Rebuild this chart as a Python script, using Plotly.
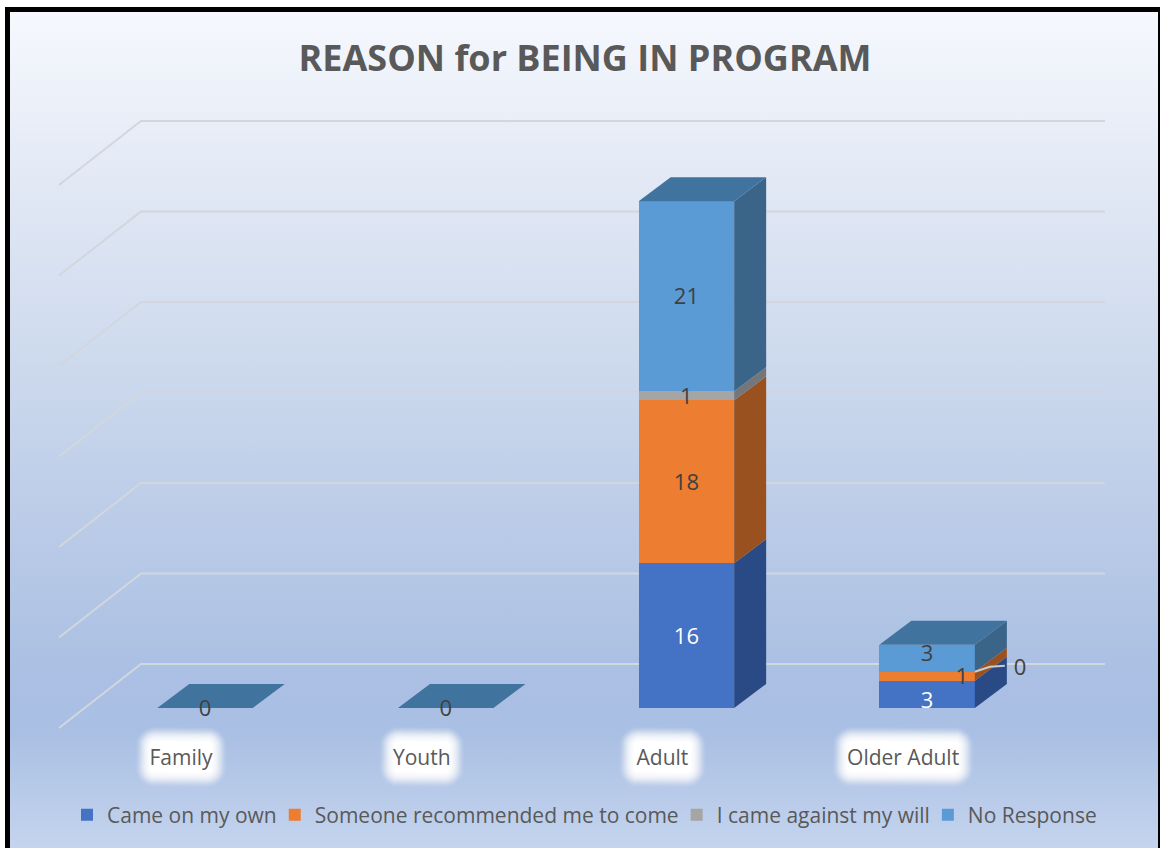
import numpy as np
import plotly.graph_objects as go

# ---- data ----
categories = ["Family", "Youth", "Adult", "Older Adult"]
series_names = ["Came on my own", "Someone recommended me to come", "I came against my will", "No Response"]
came_on_my_own = [0, 0, 16, 3]
someone_recommended = [0, 0, 18, 1]
came_against_will = [0, 0, 1, 0]
no_response = [0, 0, 21, 3]
value_ticks = [0, 10, 20, 30, 40, 50, 60]

# ---- style ----
FONT = "Open Sans"
front_colors = ["#4472C4", "#ED7D31", "#A5A5A5", "#5B9BD5"]
side_colors = ["#2A4A85", "#9A5120", "#75767A", "#3A6589"]
top_color = "#41739F"
label_colors = ["#FFFFFF", "#404040", "#404040", "#404040"]
TEXT = "#595959"

W, H = 1160, 848
X0_PX, X_STEP = 205.0, 240.7
Y0_PX, Y_STEP = 708.0, 9.05


def xd(px):
    return (np.asarray(px, float) - X0_PX) / X_STEP


def yd(py):
    return (Y0_PX - np.asarray(py, float)) / Y_STEP


def dx(px):
    return px / X_STEP


def dy(px):
    return px / Y_STEP


x_range = [float(xd(0)), float(xd(W))]
y_range = [float(yd(H)), float(yd(0))]

fig = go.Figure()

# background gradient (main axes, below the bars' overlay axes)
fig.add_trace(go.Scatter(
    x=[xd(10), xd(1158), xd(1158), xd(10), xd(10)],
    y=[yd(12), yd(12), yd(848), yd(848), yd(12)],
    fill="toself", mode="none", showlegend=False, hoverinfo="skip",
    fillgradient=dict(type="vertical", colorscale=[
        [0.0, "#C4D4EE"], [0.14, "#A9BFE3"], [0.22, "#ABC0E3"],
        [0.55, "#CAD7EC"], [0.8, "#E2E9F5"], [1.0, "#F6F8FD"]]),
))

# floor + back wall grid lines
GRID_L_FRONT, GRID_L_BACK, GRID_R = 59, 141, 1105
FLOOR_FRONT, FLOOR_BACK = 728, 664
gx, gy = [], []
for t in value_ticks:
    gx += [float(xd(GRID_L_FRONT)), float(xd(GRID_L_BACK)), float(xd(GRID_R)), None]
    gy += [t + dy(Y0_PX - FLOOR_FRONT), t + dy(Y0_PX - FLOOR_BACK), t + dy(Y0_PX - FLOOR_BACK), None]
fig.add_trace(go.Scatter(x=gx, y=gy, mode="lines", line=dict(color="#D2D6DD", width=2),
                         showlegend=False, hoverinfo="skip"))

# glow behind category labels
label_shift_px = -24
glow_half_w = [32, 29, 30, 57]
glow_half_h = 17
glow_center_y = 757


def rounded(cx, cy, hw, hh, r):
    pts = []
    for (ox, oy, a0) in [(hw - r, hh - r, 0), (-(hw - r), hh - r, 90), (-(hw - r), -(hh - r), 180), (hw - r, -(hh - r), 270)]:
        for a in np.radians(np.arange(a0, a0 + 91, 15)):
            pts.append((cx + ox + r * np.cos(a), cy + oy + r * np.sin(a)))
    pts.append(pts[0])
    return pts


for grow in range(14, -2, -1):
    xs, ys = [], []
    for i, hw in enumerate(glow_half_w):
        cx = X0_PX + i * X_STEP + label_shift_px
        for (a, b) in rounded(cx, glow_center_y, hw + grow, glow_half_h + grow, max(grow + 6, 3)):
            xs.append(float(xd(a)))
            ys.append(float(yd(b)))
        xs.append(None)
        ys.append(None)
    alpha = 1.0 if grow < 0 else round(0.03 + 0.022 * (14 - grow), 3)
    fig.add_trace(go.Scatter(x=xs, y=ys, fill="toself", mode="lines", line=dict(width=0),
                             fillcolor=f"rgba(255,255,255,{alpha})", showlegend=False, hoverinfo="skip"))

# stacked bars on overlay axes
BAR_W = 95.5 / X_STEP
DEPTH_X, DEPTH_Y = dx(32), dy(24)
all_series = [came_on_my_own, someone_recommended, came_against_will, no_response]
positions = list(range(len(categories)))

for name, vals, col in zip(series_names, all_series, front_colors):
    fig.add_trace(go.Bar(x=positions, y=vals, name=name, width=BAR_W, marker=dict(color=col, line=dict(width=0)),
                         xaxis="x2", yaxis="y2", hoverinfo="skip"))

# pseudo-3D faces derived from the values
cum = np.zeros(len(categories))
hw = BAR_W / 2
segments = []
for s, vals in enumerate(all_series):
    xs, ys = [], []
    for i, v in enumerate(vals):
        b = cum[i]
        segments.append((s, i, v, b))
        if v > 0:
            xs += [i + hw, i + hw + DEPTH_X, i + hw + DEPTH_X, i + hw, i + hw, None]
            ys += [b, b + DEPTH_Y, b + v + DEPTH_Y, b + v, b, None]
    cum = cum + np.array(vals)
    if xs:
        fig.add_trace(go.Scatter(x=xs, y=ys, fill="toself", fillcolor=side_colors[s], mode="lines", line=dict(width=0),
                                 xaxis="x2", yaxis="y2", showlegend=False, hoverinfo="skip"))
tx, ty = [], []
for i, total in enumerate(cum):
    tx += [i - hw, i + hw, i + hw + DEPTH_X, i - hw + DEPTH_X, i - hw, None]
    ty += [total, total, total + DEPTH_Y, total + DEPTH_Y, total, None]
fig.add_trace(go.Scatter(x=tx, y=ty, fill="toself", fillcolor=top_color, mode="lines", line=dict(width=0),
                         xaxis="x2", yaxis="y2", showlegend=False, hoverinfo="skip"))

# data labels; the crowded Older Adult ones are displaced, as in the original
displaced = {(0, 3): (0, -6), (1, 3): (35, 0), (2, 3): (93, 5), (3, 3): (0, 5)}
for s in range(len(all_series)):
    lx, ly, lt = [], [], []
    for (ss, i, v, b) in segments:
        if ss != s:
            continue
        if v == 0 and (ss, i) not in displaced and not (cum[i] == 0 and ss == len(all_series) - 1):
            continue
        ox, oy = displaced.get((ss, i), (0, 0))
        lx.append(i + dx(ox))
        ly.append(b + v / 2 + dy(oy) - dy(2.5))
        lt.append(str(v))
    fig.add_trace(go.Scatter(x=lx, y=ly, text=lt, mode="text", textposition="middle center",
                             textfont=dict(family=FONT, size=22, color=label_colors[s]),
                             xaxis="x2", yaxis="y2", showlegend=False, hoverinfo="skip"))

# leader line to the displaced zero label
base = sum(v[3] for v in all_series[:2])
fig.add_trace(go.Scatter(
    x=[3 + hw, 3 + hw + dx(15), 3 + hw + dx(30)],
    y=[base, base + dy(5), base + dy(6)],
    mode="lines", line=dict(color="#C9CCD2", width=2),
    xaxis="x2", yaxis="y2", showlegend=False, hoverinfo="skip"))

axis_off = dict(showgrid=False, zeroline=False, showline=False, showticklabels=False, ticks="")
fig.update_layout(
    width=W, height=H, margin=dict(l=0, r=0, t=0, b=0, pad=0),
    paper_bgcolor="white", plot_bgcolor="rgba(0,0,0,0)",
    barmode="stack", bargap=0,
    title=dict(text="<b>REASON for BEING IN PROGRAM</b>", x=585 / W, xanchor="center",
               y=1 - 58 / H, yanchor="middle", font=dict(family=FONT, size=36, color=TEXT)),
    xaxis=dict(range=x_range, domain=[0, 1], anchor="free", position=1 - 743 / H,
               tickmode="array", tickvals=[i + dx(label_shift_px) for i in positions], ticktext=categories,
               tickfont=dict(family=FONT, size=21, color=TEXT), ticks="", showgrid=False, zeroline=False, showline=False),
    yaxis=dict(range=y_range, domain=[0, 1], **axis_off),
    xaxis2=dict(range=x_range, overlaying="x", anchor="y2", **axis_off),
    yaxis2=dict(range=y_range, overlaying="y", anchor="x2", **axis_off),
    legend=dict(orientation="h", x=74 / W, xanchor="left", y=1 - 815 / H, yanchor="middle",
                bgcolor="rgba(0,0,0,0)", font=dict(family=FONT, size=21, color=TEXT),
                indentation=-7, itemclick=False, itemdoubleclick=False, traceorder="normal"),
    shapes=[dict(type="rect", xref="paper", yref="paper", x0=7.5 / W, x1=1160.5 / W, y0=-3 / H, y1=1 - 9.5 / H,
                 line=dict(color="black", width=5), fillcolor="rgba(0,0,0,0)", layer="above")],
)

fig.write_html("out.html", config={"displayModeBar": False},
               post_script="document.body.style.margin='0';document.documentElement.style.overflow='hidden';")
